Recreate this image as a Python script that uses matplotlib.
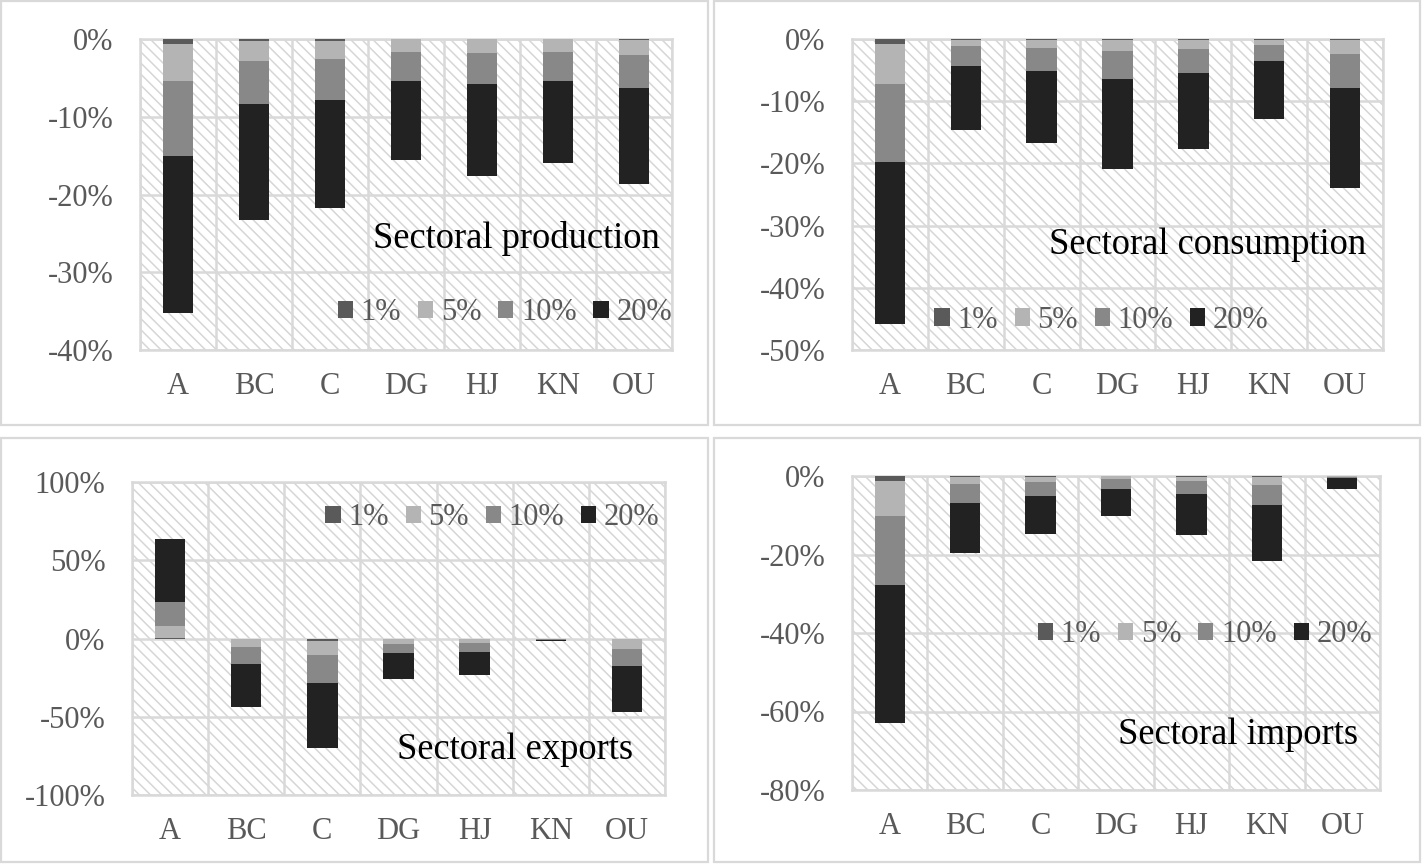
import numpy as np
import matplotlib
matplotlib.use("Agg")
import matplotlib.pyplot as plt
from matplotlib.patches import Rectangle

plt.rcParams["font.family"] = ["Liberation Serif", "DejaVu Serif"]
plt.rcParams["hatch.linewidth"] = 1.1

sectors = ["A", "BC", "C", "DG", "HJ", "KN", "OU"]
shocks = ["1%", "5%", "10%", "20%"]
colours = ["#5a5a5a", "#b4b4b4", "#888888", "#222222"]

# total effect (%) for each shock size, per sector
production = {
    "1%": [-0.7, -0.2, -0.2, -0.05, -0.05, -0.05, -0.1],
    "5%": [-5.4, -2.8, -2.6, -1.7, -1.8, -1.7, -2.1],
    "10%": [-15.1, -8.4, -7.8, -5.4, -5.8, -5.4, -6.3],
    "20%": [-35.2, -23.3, -21.7, -15.5, -17.6, -15.9, -18.6],
}
consumption = {
    "1%": [-0.8, -0.1, -0.1, -0.1, -0.1, -0.1, -0.1],
    "5%": [-7.2, -1.2, -1.5, -1.9, -1.6, -0.9, -2.4],
    "10%": [-19.8, -4.4, -5.1, -6.5, -5.4, -3.6, -7.8],
    "20%": [-45.9, -14.7, -16.7, -20.9, -17.7, -12.9, -23.9],
}
exports = {
    "1%": [0.5, -0.5, -1.5, -0.5, -0.5, -0.1, -0.5],
    "5%": [7.7, -5.6, -10.7, -3.4, -3.0, -0.5, -6.6],
    "10%": [23.6, -16.1, -28.3, -9.2, -8.6, -1.0, -17.6],
    "20%": [63.8, -43.5, -70.0, -25.9, -23.6, -1.5, -46.7],
}
imports = {
    "1%": [-1.4, -0.2, -0.2, -0.1, -0.2, -0.2, -0.1],
    "5%": [-10.1, -2.1, -1.5, -0.7, -1.2, -2.3, -0.3],
    "10%": [-27.7, -7.0, -5.0, -3.3, -4.7, -7.4, -0.6],
    "20%": [-62.9, -19.7, -14.7, -10.3, -15.0, -21.6, -3.4],
}

W, H = 1422, 864
fig = plt.figure(figsize=(W / 100, H / 100), dpi=100)

grid_col = "#d9d9d9"
text_col = "#595959"


def px_axes(left, right, top, bottom):
    return fig.add_axes([left / W, 1 - bottom / H, (right - left) / W, (bottom - top) / H])


panels = [
    # data, title, (l, r, t, b), ylim, step, title pos, legend anchor, legend loc
    (production, "Sectoral production", (140, 672, 39, 350), (-40, 0), 10, (0.977, 0.36), (1.0, 0.119), "center right"),
    (consumption, "Sectoral consumption", (852, 1383, 39, 350), (-50, 0), 10, (0.968, 0.338), (0.47, 0.096), "center"),
    (exports, "Sectoral exports", (132, 665, 482, 795), (-100, 100), 50, (0.94, 0.144), (0.99, 0.885), "center right"),
    (imports, "Sectoral imports", (852, 1380, 476, 790), (-80, 0), 20, (0.958, 0.175), (0.985, 0.494), "center right"),
]

# panel borders
for (x0, y0, x1, y1) in [(1, 1, 708, 425), (714, 1, 1420, 425), (1, 438, 708, 862), (714, 438, 1420, 862)]:
    fig.patches.append(Rectangle((x0 / W, 1 - y1 / H), (x1 - x0) / W, (y1 - y0) / H,
                                 transform=fig.transFigure, fill=False,
                                 edgecolor=grid_col, lw=1.6))

x = np.arange(len(sectors))
for data, title, box, ylim, step, tpos, lpos, lloc in panels:
    ax = px_axes(*box)
    ax.add_patch(Rectangle((0, 0), 1, 1, transform=ax.transAxes, facecolor="white",
                           edgecolor="#d6d6d6", lw=0, hatch="\\\\\\", zorder=0.1))
    ax.set_axisbelow(True)
    handles = {}
    # largest shock behind, smallest in front
    for i in range(len(shocks) - 1, -1, -1):
        s = shocks[i]
        b = ax.bar(x, data[s], width=0.4, color=colours[i], zorder=2 + (3 - i), label=s)
        handles[s] = b
    ax.set_xlim(-0.5, len(sectors) - 0.5)
    ax.set_ylim(*ylim)
    ticks = np.arange(ylim[0], ylim[1] + step / 2, step)
    ax.set_yticks(ticks)
    ax.set_yticklabels([f"{v:.0f}%" for v in ticks])
    ax.set_xticks(x)
    ax.set_xticklabels(sectors)
    ax.set_xticks(np.arange(-0.5, len(sectors)), minor=True)
    ax.tick_params(which="both", length=0, labelsize=22, labelcolor=text_col)
    ax.tick_params(axis="y", pad=19)
    ax.tick_params(axis="x", pad=16)
    ax.grid(axis="y", which="major", color=grid_col, lw=1.8)
    ax.grid(axis="x", which="minor", color=grid_col, lw=1.8)
    for sp in ax.spines.values():
        sp.set_color(grid_col)
        sp.set_linewidth(1.8)
    ax.text(tpos[0], tpos[1], title, transform=ax.transAxes, ha="right", va="center",
            fontsize=26.3, color="black", zorder=10)
    leg = ax.legend([handles[s] for s in shocks], shocks, loc=lloc, bbox_to_anchor=lpos,
                    ncol=4, frameon=False, fontsize=22, labelcolor=text_col,
                    handlelength=0.5, handleheight=0.5, handletextpad=0.25,
                    columnspacing=0.55, borderaxespad=0, borderpad=0)
    leg.set_zorder(10)

fig.savefig("out.png", dpi=100)
